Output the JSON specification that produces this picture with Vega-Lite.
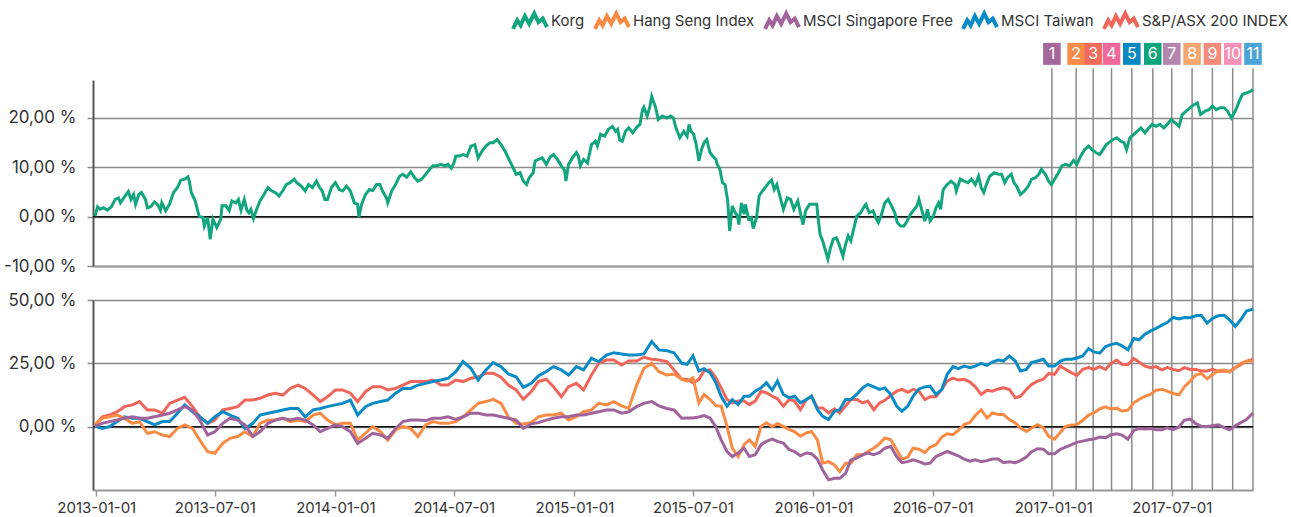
{
"$schema": "https://vega.github.io/schema/vega-lite/v6.json",
"background": "white",
"padding": {"left": 3, "top": 2, "right": 0, "bottom": 0},
"bounds": "flush",
"spacing": 34,
"config": {"font": "Inter", "view": {"stroke": null}},
"datasets": {
"events": [{"d":"2016-12-30","n":1},{"d":"2017-02-05","n":2},{"d":"2017-03-03","n":3},{"d":"2017-03-31","n":4},{"d":"2017-05-01","n":5},{"d":"2017-06-02","n":6},{"d":"2017-07-01","n":7},{"d":"2017-08-01","n":8},{"d":"2017-09-01","n":9},{"d":"2017-10-02","n":10},{"d":"2017-11-02","n":11}],
"korg": [
{"d":"2012-365","v":0.1},{"d":"2013-003","v":2.0},{"d":"2013-007","v":1.5},{"d":"2013-012","v":1.8},{"d":"2013-018","v":1.3},{"d":"2013-024","v":2.0},{"d":"2013-030","v":3.5},{"d":"2013-035","v":3.8},{"d":"2013-038","v":2.8},{"d":"2013-044","v":4.0},{"d":"2013-050","v":5.1},{"d":"2013-054","v":3.5},{"d":"2013-058","v":4.5},{"d":"2013-061","v":2.5},{"d":"2013-066","v":4.5},{"d":"2013-070","v":4.9},{"d":"2013-076","v":3.5},{"d":"2013-079","v":1.8},{"d":"2013-084","v":2.0},{"d":"2013-090","v":3.0},{"d":"2013-095","v":2.4},{"d":"2013-099","v":1.3},{"d":"2013-101","v":2.8},{"d":"2013-107","v":1.2},{"d":"2013-113","v":2.6},{"d":"2013-119","v":4.9},{"d":"2013-125","v":5.9},{"d":"2013-130","v":7.4},{"d":"2013-136","v":7.6},{"d":"2013-141","v":8.1},{"d":"2013-143","v":7.2},{"d":"2013-146","v":4.9},{"d":"2013-152","v":3.2},{"d":"2013-158","v":0.1},{"d":"2013-164","v":-0.2},{"d":"2013-166","v":-1.9},{"d":"2013-171","v":-0.2},{"d":"2013-175","v":-4.6},{"d":"2013-179","v":-0.5},{"d":"2013-185","v":-2.2},{"d":"2013-191","v":-0.5},{"d":"2013-193","v":2.2},{"d":"2013-199","v":2.2},{"d":"2013-204","v":1.2},{"d":"2013-208","v":3.2},{"d":"2013-214","v":2.8},{"d":"2013-218","v":3.5},{"d":"2013-222","v":1.3},{"d":"2013-227","v":3.5},{"d":"2013-231","v":1.3},{"d":"2013-234","v":0.8},{"d":"2013-237","v":1.5},{"d":"2013-241","v":-0.4},{"d":"2013-245","v":1.2},{"d":"2013-251","v":3.2},{"d":"2013-257","v":4.5},{"d":"2013-263","v":5.9},{"d":"2013-268","v":5.3},{"d":"2013-274","v":4.9},{"d":"2013-280","v":4.2},{"d":"2013-286","v":5.3},{"d":"2013-291","v":6.5},{"d":"2013-297","v":6.9},{"d":"2013-303","v":7.6},{"d":"2013-307","v":6.9},{"d":"2013-314","v":6.2},{"d":"2013-320","v":5.2},{"d":"2013-325","v":6.5},{"d":"2013-331","v":5.9},{"d":"2013-337","v":7.2},{"d":"2013-342","v":5.9},{"d":"2013-346","v":5.2},{"d":"2013-350","v":3.5},{"d":"2013-354","v":3.5},{"d":"2013-360","v":5.9},
{"d":"2014-001","v":6.9},{"d":"2014-007","v":5.5},{"d":"2014-012","v":5.2},{"d":"2014-018","v":6.2},{"d":"2014-024","v":5.2},{"d":"2014-030","v":2.8},{"d":"2014-035","v":2.5},{"d":"2014-037","v":-0.1},{"d":"2014-041","v":2.5},{"d":"2014-047","v":4.5},{"d":"2014-053","v":5.5},{"d":"2014-058","v":5.3},{"d":"2014-064","v":6.5},{"d":"2014-069","v":6.5},{"d":"2014-073","v":5.2},{"d":"2014-079","v":3.8},{"d":"2014-081","v":2.8},{"d":"2014-087","v":5.2},{"d":"2014-093","v":6.5},{"d":"2014-099","v":8.2},{"d":"2014-104","v":8.6},{"d":"2014-110","v":8.0},{"d":"2014-116","v":9.1},{"d":"2014-122","v":7.9},{"d":"2014-127","v":7.2},{"d":"2014-133","v":7.6},{"d":"2014-139","v":8.6},{"d":"2014-145","v":9.6},{"d":"2014-150","v":10.3},{"d":"2014-156","v":10.3},{"d":"2014-162","v":10.6},{"d":"2014-168","v":10.3},{"d":"2014-173","v":10.6},{"d":"2014-178","v":9.8},{"d":"2014-182","v":10.9},{"d":"2014-185","v":12.3},{"d":"2014-191","v":12.3},{"d":"2014-196","v":12.6},{"d":"2014-202","v":12.3},{"d":"2014-208","v":14.3},{"d":"2014-214","v":14.6},{"d":"2014-219","v":11.9},{"d":"2014-225","v":13.3},{"d":"2014-231","v":14.3},{"d":"2014-237","v":15.0},{"d":"2014-242","v":15.0},{"d":"2014-248","v":15.6},{"d":"2014-254","v":14.6},{"d":"2014-260","v":13.3},{"d":"2014-265","v":11.9},{"d":"2014-271","v":10.3},{"d":"2014-277","v":8.6},{"d":"2014-283","v":8.9},{"d":"2014-288","v":7.2},{"d":"2014-293","v":6.5},{"d":"2014-297","v":7.9},{"d":"2014-303","v":8.9},{"d":"2014-306","v":11.3},{"d":"2014-311","v":11.6},{"d":"2014-317","v":11.9},{"d":"2014-323","v":10.6},{"d":"2014-329","v":12.1},{"d":"2014-334","v":12.6},{"d":"2014-340","v":11.6},{"d":"2014-346","v":10.3},{"d":"2014-351","v":9.4},{"d":"2014-353","v":7.2},{"d":"2014-357","v":10.6},{"d":"2014-363","v":11.9},
{"d":"2015-004","v":13.0},{"d":"2015-007","v":12.3},{"d":"2015-010","v":10.3},{"d":"2015-015","v":11.6},{"d":"2015-021","v":10.9},{"d":"2015-027","v":14.6},{"d":"2015-033","v":15.3},{"d":"2015-036","v":14.3},{"d":"2015-041","v":16.7},{"d":"2015-047","v":16.3},{"d":"2015-053","v":17.7},{"d":"2015-059","v":18.3},{"d":"2015-064","v":17.3},{"d":"2015-067","v":17.7},{"d":"2015-070","v":15.6},{"d":"2015-074","v":15.3},{"d":"2015-079","v":17.3},{"d":"2015-084","v":18.0},{"d":"2015-090","v":17.0},{"d":"2015-096","v":18.1},{"d":"2015-101","v":18.7},{"d":"2015-105","v":21.7},{"d":"2015-107","v":22.2},{"d":"2015-112","v":20.4},{"d":"2015-116","v":22.2},{"d":"2015-119","v":24.4},{"d":"2015-125","v":22.1},{"d":"2015-129","v":19.7},{"d":"2015-135","v":20.4},{"d":"2015-142","v":20.0},{"d":"2015-148","v":20.4},{"d":"2015-152","v":20.0},{"d":"2015-156","v":18.0},{"d":"2015-162","v":16.0},{"d":"2015-168","v":17.3},{"d":"2015-173","v":16.3},{"d":"2015-176","v":18.7},{"d":"2015-179","v":17.3},{"d":"2015-183","v":16.7},{"d":"2015-187","v":14.6},{"d":"2015-191","v":11.3},{"d":"2015-195","v":13.6},{"d":"2015-199","v":15.0},{"d":"2015-203","v":15.6},{"d":"2015-208","v":13.0},{"d":"2015-212","v":12.3},{"d":"2015-217","v":11.6},{"d":"2015-219","v":10.6},{"d":"2015-223","v":9.6},{"d":"2015-227","v":6.9},{"d":"2015-231","v":6.5},{"d":"2015-235","v":3.2},{"d":"2015-238","v":-2.9},{"d":"2015-242","v":2.2},{"d":"2015-245","v":1.2},{"d":"2015-250","v":0.1},{"d":"2015-252","v":-1.6},{"d":"2015-256","v":2.8},{"d":"2015-260","v":0.5},{"d":"2015-262","v":2.5},{"d":"2015-267","v":-0.5},{"d":"2015-271","v":-0.2},{"d":"2015-274","v":-2.4},{"d":"2015-279","v":-0.2},{"d":"2015-283","v":4.2},{"d":"2015-288","v":5.2},{"d":"2015-294","v":6.2},{"d":"2015-298","v":6.9},{"d":"2015-302","v":7.4},{"d":"2015-306","v":5.5},{"d":"2015-310","v":6.5},{"d":"2015-314","v":4.5},{"d":"2015-320","v":1.5},{"d":"2015-326","v":3.8},{"d":"2015-331","v":3.5},{"d":"2015-336","v":1.5},{"d":"2015-342","v":3.2},{"d":"2015-346","v":0.8},{"d":"2015-350","v":-1.6},{"d":"2015-354","v":1.2},{"d":"2015-360","v":2.5},
{"d":"2016-001","v":2.5},{"d":"2016-006","v":2.5},{"d":"2016-008","v":-0.2},{"d":"2016-011","v":-3.6},{"d":"2016-015","v":-4.9},{"d":"2016-018","v":-6.3},{"d":"2016-023","v":-8.6},{"d":"2016-027","v":-6.3},{"d":"2016-031","v":-4.6},{"d":"2016-036","v":-4.3},{"d":"2016-040","v":-5.6},{"d":"2016-046","v":-8.0},{"d":"2016-050","v":-5.6},{"d":"2016-054","v":-3.9},{"d":"2016-058","v":-4.9},{"d":"2016-064","v":-1.6},{"d":"2016-067","v":0.1},{"d":"2016-073","v":0.8},{"d":"2016-079","v":2.2},{"d":"2016-081","v":2.5},{"d":"2016-086","v":0.8},{"d":"2016-092","v":1.2},{"d":"2016-096","v":-0.2},{"d":"2016-100","v":-1.2},{"d":"2016-104","v":0.1},{"d":"2016-110","v":2.8},{"d":"2016-115","v":3.5},{"d":"2016-119","v":2.5},{"d":"2016-125","v":0.8},{"d":"2016-129","v":-1.2},{"d":"2016-134","v":-1.9},{"d":"2016-139","v":-1.9},{"d":"2016-144","v":-0.9},{"d":"2016-149","v":0.5},{"d":"2016-155","v":1.5},{"d":"2016-159","v":2.2},{"d":"2016-162","v":3.5},{"d":"2016-166","v":1.5},{"d":"2016-171","v":-0.9},{"d":"2016-175","v":1.5},{"d":"2016-179","v":-0.9},{"d":"2016-184","v":0.1},{"d":"2016-188","v":1.8},{"d":"2016-192","v":2.8},{"d":"2016-195","v":1.5},{"d":"2016-199","v":5.5},{"d":"2016-205","v":6.5},{"d":"2016-211","v":7.2},{"d":"2016-217","v":6.5},{"d":"2016-219","v":5.2},{"d":"2016-225","v":7.6},{"d":"2016-231","v":7.2},{"d":"2016-237","v":6.9},{"d":"2016-242","v":7.6},{"d":"2016-248","v":6.5},{"d":"2016-253","v":8.2},{"d":"2016-257","v":5.9},{"d":"2016-261","v":4.9},{"d":"2016-265","v":6.5},{"d":"2016-270","v":8.2},{"d":"2016-277","v":8.9},{"d":"2016-283","v":8.6},{"d":"2016-288","v":8.6},{"d":"2016-293","v":6.9},{"d":"2016-297","v":7.9},{"d":"2016-303","v":8.6},{"d":"2016-307","v":6.9},{"d":"2016-311","v":6.2},{"d":"2016-317","v":4.5},{"d":"2016-323","v":5.2},{"d":"2016-329","v":6.2},{"d":"2016-334","v":7.6},{"d":"2016-340","v":7.9},{"d":"2016-345","v":8.6},{"d":"2016-349","v":9.6},{"d":"2016-355","v":8.6},{"d":"2016-360","v":7.2},{"d":"2016-364","v":6.5},
{"d":"2017-003","v":7.6},{"d":"2017-009","v":8.9},{"d":"2017-014","v":10.3},{"d":"2017-020","v":10.6},{"d":"2017-026","v":10.3},{"d":"2017-032","v":11.4},{"d":"2017-037","v":10.6},{"d":"2017-043","v":12.3},{"d":"2017-049","v":13.6},{"d":"2017-055","v":14.3},{"d":"2017-060","v":13.6},{"d":"2017-066","v":13.0},{"d":"2017-072","v":12.6},{"d":"2017-077","v":13.6},{"d":"2017-082","v":14.6},{"d":"2017-086","v":15.0},{"d":"2017-092","v":15.6},{"d":"2017-098","v":16.0},{"d":"2017-104","v":15.3},{"d":"2017-109","v":15.0},{"d":"2017-113","v":13.6},{"d":"2017-118","v":16.0},{"d":"2017-124","v":16.7},{"d":"2017-129","v":17.3},{"d":"2017-135","v":18.0},{"d":"2017-141","v":17.0},{"d":"2017-147","v":18.0},{"d":"2017-152","v":18.7},{"d":"2017-158","v":18.3},{"d":"2017-164","v":18.7},{"d":"2017-170","v":18.0},{"d":"2017-175","v":18.7},{"d":"2017-181","v":19.7},{"d":"2017-187","v":19.0},{"d":"2017-193","v":18.3},{"d":"2017-198","v":20.7},{"d":"2017-204","v":21.4},{"d":"2017-210","v":22.1},{"d":"2017-216","v":22.7},{"d":"2017-221","v":23.1},{"d":"2017-226","v":20.7},{"d":"2017-233","v":21.4},{"d":"2017-239","v":21.7},{"d":"2017-244","v":22.4},{"d":"2017-250","v":21.7},{"d":"2017-256","v":22.1},{"d":"2017-262","v":22.1},{"d":"2017-267","v":21.4},{"d":"2017-273","v":20.0},{"d":"2017-279","v":21.4},{"d":"2017-285","v":23.4},{"d":"2017-290","v":24.8},{"d":"2017-296","v":25.1},{"d":"2017-302","v":25.4},{"d":"2017-306","v":25.8}
],
"idx": [
{"d":"2012-365","a":0.5,"t":0.2,"h":0.8,"s":0.2},{"d":"2013-010","a":3.9,"t":-0.7,"h":3.3,"s":1.3},{"d":"2013-021","a":4.6,"t":0.0,"h":3.9,"s":2.0},{"d":"2013-033","a":5.9,"t":2.0,"h":4.6,"s":2.6},{"d":"2013-044","a":7.9,"t":3.9,"h":3.3,"s":3.3},{"d":"2013-056","a":8.6,"t":3.3,"h":1.3,"s":3.9},{"d":"2013-067","a":9.9,"t":3.3,"h":2.0,"s":3.3},{"d":"2013-079","a":6.6,"t":2.0,"h":-2.6,"s":3.3},{"d":"2013-090","a":6.6,"t":0.7,"h":-2.0,"s":3.9},{"d":"2013-102","a":5.3,"t":2.0,"h":-3.3,"s":4.6},{"d":"2013-113","a":9.2,"t":2.0,"h":-3.9,"s":5.3},{"d":"2013-125","a":10.5,"t":5.3,"h":-0.7,"s":6.6},{"d":"2013-136","a":11.6,"t":8.6,"h":0.7,"s":7.9},{"d":"2013-148","a":7.9,"t":5.9,"h":-0.7,"s":6.6},{"d":"2013-159","a":3.9,"t":3.9,"h":-5.3,"s":2.6},{"d":"2013-171","a":1.3,"t":1.3,"h":-9.9,"s":-3.3},{"d":"2013-182","a":2.6,"t":3.9,"h":-10.5,"s":-2.0},{"d":"2013-194","a":6.6,"t":5.9,"h":-6.6,"s":1.3},{"d":"2013-205","a":7.2,"t":4.6,"h":-4.6,"s":3.3},{"d":"2013-217","a":7.9,"t":3.3,"h":-3.9,"s":2.6},{"d":"2013-228","a":10.5,"t":-0.7,"h":-2.0,"s":0.7},{"d":"2013-240","a":10.5,"t":1.3,"h":-3.9,"s":-3.9},{"d":"2013-251","a":11.2,"t":4.6,"h":1.3,"s":-2.0},{"d":"2013-263","a":12.5,"t":5.3,"h":2.6,"s":1.3},{"d":"2013-274","a":13.2,"t":5.9,"h":2.6,"s":2.6},{"d":"2013-286","a":12.5,"t":6.6,"h":3.3,"s":3.3},{"d":"2013-297","a":15.1,"t":7.2,"h":2.0,"s":2.6},{"d":"2013-309","a":16.4,"t":7.2,"h":2.6,"s":3.3},{"d":"2013-320","a":15.1,"t":3.9,"h":2.0,"s":2.6},{"d":"2013-332","a":12.5,"t":6.6,"h":4.6,"s":0.7},{"d":"2013-343","a":9.9,"t":7.2,"h":5.3,"s":-2.0},{"d":"2013-354","a":11.8,"t":7.9,"h":2.6,"s":-0.7},
{"d":"2014-001","a":14.5,"t":8.6,"h":0.7,"s":0.7},{"d":"2014-012","a":14.5,"t":9.2,"h":1.3,"s":0.0},{"d":"2014-024","a":13.2,"t":10.5,"h":1.3,"s":-2.0},{"d":"2014-035","a":9.9,"t":4.6,"h":-5.3,"s":-6.6},{"d":"2014-047","a":13.8,"t":7.9,"h":-2.6,"s":-4.6},{"d":"2014-058","a":15.8,"t":9.2,"h":0.0,"s":-2.6},{"d":"2014-070","a":15.8,"t":9.9,"h":-2.0,"s":-3.3},{"d":"2014-081","a":14.5,"t":10.5,"h":-5.3,"s":-4.6},{"d":"2014-093","a":15.1,"t":13.2,"h":-1.3,"s":-0.7},{"d":"2014-104","a":16.4,"t":15.1,"h":0.0,"s":2.0},{"d":"2014-116","a":17.8,"t":15.1,"h":-0.7,"s":2.6},{"d":"2014-127","a":17.8,"t":16.4,"h":-3.9,"s":2.6},{"d":"2014-139","a":17.8,"t":17.1,"h":0.7,"s":2.4},{"d":"2014-150","a":18.4,"t":17.8,"h":2.0,"s":3.3},{"d":"2014-162","a":16.4,"t":18.4,"h":1.3,"s":3.3},{"d":"2014-173","a":16.4,"t":19.1,"h":1.3,"s":3.9},{"d":"2014-185","a":18.4,"t":21.7,"h":2.0,"s":2.9},{"d":"2014-196","a":17.8,"t":25.7,"h":3.9,"s":3.9},{"d":"2014-208","a":19.1,"t":23.0,"h":6.6,"s":5.3},{"d":"2014-219","a":19.7,"t":18.4,"h":9.2,"s":5.3},{"d":"2014-231","a":21.1,"t":22.4,"h":9.9,"s":4.6},{"d":"2014-242","a":21.1,"t":25.3,"h":10.8,"s":4.6},{"d":"2014-254","a":19.5,"t":23.7,"h":9.2,"s":3.9},{"d":"2014-265","a":16.4,"t":20.8,"h":3.9,"s":3.3},{"d":"2014-277","a":14.5,"t":19.7,"h":1.3,"s":2.6},{"d":"2014-288","a":10.8,"t":15.5,"h":1.1,"s":-0.7},{"d":"2014-300","a":13.8,"t":17.1,"h":1.6,"s":1.1},{"d":"2014-311","a":17.8,"t":20.0,"h":3.9,"s":1.6},{"d":"2014-323","a":18.7,"t":21.8,"h":4.6,"s":2.6},{"d":"2014-334","a":15.8,"t":23.7,"h":4.6,"s":3.3},{"d":"2014-346","a":11.8,"t":22.4,"h":5.3,"s":3.9},{"d":"2014-357","a":15.8,"t":20.4,"h":2.6,"s":3.9},
{"d":"2015-004","a":17.1,"t":23.7,"h":3.9,"s":4.6},{"d":"2015-015","a":14.5,"t":22.4,"h":5.9,"s":4.6},{"d":"2015-027","a":20.4,"t":27.0,"h":6.6,"s":5.3},{"d":"2015-038","a":25.0,"t":25.7,"h":9.2,"s":5.9},{"d":"2015-050","a":26.3,"t":28.3,"h":8.6,"s":6.6},{"d":"2015-061","a":26.3,"t":29.2,"h":9.9,"s":6.6},{"d":"2015-073","a":24.3,"t":28.7,"h":8.2,"s":5.3},{"d":"2015-084","a":25.9,"t":28.3,"h":7.2,"s":5.9},{"d":"2015-096","a":25.9,"t":28.3,"h":16.4,"s":7.9},{"d":"2015-107","a":27.4,"t":28.7,"h":23.0,"s":9.2},{"d":"2015-119","a":26.6,"t":33.6,"h":25.0,"s":9.9},{"d":"2015-130","a":26.3,"t":30.3,"h":21.7,"s":8.2},{"d":"2015-142","a":25.7,"t":30.0,"h":20.4,"s":7.2},{"d":"2015-153","a":22.4,"t":29.2,"h":20.8,"s":6.6},{"d":"2015-165","a":18.7,"t":25.0,"h":18.7,"s":3.3},
{"d":"2015-173","a":18.7,"t":24.6,"h":18.0,"s":3.4},{"d":"2015-182","a":17.3,"t":27.9,"h":19.3,"s":3.4},{"d":"2015-191","a":18.7,"t":22.0,"h":9.4,"s":3.8},{"d":"2015-199","a":22.0,"t":22.9,"h":12.7,"s":4.4},{"d":"2015-208","a":22.4,"t":21.3,"h":10.7,"s":3.4},{"d":"2015-217","a":19.3,"t":17.3,"h":8.3,"s":-0.1},{"d":"2015-225","a":15.3,"t":12.0,"h":8.1,"s":-5.2},{"d":"2015-234","a":10.7,"t":8.1,"h":0.1,"s":-9.8},{"d":"2015-242","a":9.4,"t":10.7,"h":-8.5,"s":-11.8},{"d":"2015-251","a":10.1,"t":8.7,"h":-11.8,"s":-10.4},{"d":"2015-260","a":10.1,"t":12.0,"h":-7.1,"s":-8.5},{"d":"2015-268","a":8.7,"t":12.0,"h":-5.2,"s":-11.8},{"d":"2015-277","a":10.1,"t":14.0,"h":-7.8,"s":-11.1},{"d":"2015-286","a":14.0,"t":15.3,"h":0.1,"s":-7.1},{"d":"2015-294","a":13.4,"t":17.3,"h":1.5,"s":-5.8},{"d":"2015-303","a":12.0,"t":14.4,"h":0.1,"s":-4.9},{"d":"2015-311","a":11.0,"t":18.0,"h":1.2,"s":-5.8},{"d":"2015-320","a":8.1,"t":12.7,"h":0.1,"s":-6.5},{"d":"2015-329","a":10.7,"t":11.4,"h":-1.2,"s":-9.1},{"d":"2015-337","a":10.1,"t":12.0,"h":-1.9,"s":-9.8},{"d":"2015-346","a":6.7,"t":9.4,"h":-3.8,"s":-11.5},{"d":"2015-355","a":10.7,"t":10.7,"h":-2.5,"s":-10.4},{"d":"2015-363","a":12.0,"t":12.0,"h":-1.9,"s":-10.7},
{"d":"2016-007","a":7.4,"t":6.7,"h":-5.2,"s":-12.8},{"d":"2016-015","a":7.4,"t":4.1,"h":-14.4,"s":-17.1},{"d":"2016-024","a":5.4,"t":2.8,"h":-13.8,"s":-21.0},{"d":"2016-033","a":7.0,"t":6.1,"h":-15.1,"s":-20.4},{"d":"2016-041","a":5.4,"t":6.7,"h":-17.7,"s":-20.4},{"d":"2016-050","a":8.1,"t":10.7,"h":-14.4,"s":-18.4},{"d":"2016-058","a":10.7,"t":10.7,"h":-14.4,"s":-13.1},{"d":"2016-067","a":10.7,"t":12.7,"h":-11.1,"s":-12.4},{"d":"2016-076","a":9.4,"t":15.3,"h":-11.1,"s":-11.1},{"d":"2016-084","a":10.1,"t":16.7,"h":-9.8,"s":-10.4},{"d":"2016-093","a":6.7,"t":15.7,"h":-8.5,"s":-11.1},{"d":"2016-102","a":9.4,"t":14.7,"h":-6.7,"s":-10.2},{"d":"2016-110","a":10.4,"t":15.3,"h":-4.5,"s":-8.5},{"d":"2016-119","a":12.3,"t":12.7,"h":-5.2,"s":-7.8},{"d":"2016-128","a":14.0,"t":8.1,"h":-9.1,"s":-11.8},{"d":"2016-136","a":14.7,"t":6.1,"h":-12.8,"s":-14.2},{"d":"2016-145","a":13.6,"t":8.1,"h":-12.0,"s":-13.8},{"d":"2016-153","a":14.7,"t":12.0,"h":-8.5,"s":-13.1},{"d":"2016-162","a":14.0,"t":14.9,"h":-8.9,"s":-13.8},{"d":"2016-171","a":10.7,"t":15.7,"h":-10.2,"s":-14.7},{"d":"2016-179","a":11.8,"t":16.0,"h":-8.1,"s":-14.4},{"d":"2016-188","a":11.8,"t":12.7,"h":-7.1,"s":-11.8},{"d":"2016-197","a":14.7,"t":14.7,"h":-4.1,"s":-10.7},{"d":"2016-205","a":18.0,"t":20.6,"h":-2.8,"s":-9.8},{"d":"2016-214","a":19.2,"t":23.7,"h":-3.2,"s":-10.7},{"d":"2016-222","a":18.4,"t":22.9,"h":-1.5,"s":-11.5},{"d":"2016-231","a":18.7,"t":23.9,"h":0.8,"s":-12.8},{"d":"2016-240","a":17.6,"t":23.3,"h":1.7,"s":-13.6},{"d":"2016-248","a":15.7,"t":23.9,"h":4.4,"s":-13.1},{"d":"2016-257","a":12.7,"t":25.0,"h":6.7,"s":-13.8},{"d":"2016-266","a":14.4,"t":24.2,"h":3.4,"s":-13.4},{"d":"2016-274","a":14.0,"t":25.5,"h":5.4,"s":-12.8},{"d":"2016-283","a":14.9,"t":26.3,"h":4.8,"s":-12.8},{"d":"2016-291","a":15.3,"t":25.9,"h":4.8,"s":-14.2},{"d":"2016-300","a":14.7,"t":27.9,"h":2.8,"s":-13.9},{"d":"2016-309","a":11.4,"t":25.9,"h":1.5,"s":-14.2},{"d":"2016-317","a":12.0,"t":22.0,"h":-0.5,"s":-13.4},{"d":"2016-326","a":14.7,"t":22.6,"h":-1.9,"s":-12.0},{"d":"2016-334","a":16.7,"t":25.3,"h":-0.5,"s":-9.9},{"d":"2016-343","a":18.0,"t":25.9,"h":0.8,"s":-8.7},{"d":"2016-352","a":18.7,"t":26.6,"h":-0.5,"s":-8.9},{"d":"2016-360","a":21.0,"t":23.9,"h":-3.8,"s":-10.7},
{"d":"2017-003","a":20.6,"t":23.9,"h":-4.9,"s":-10.7},{"d":"2017-012","a":23.9,"t":25.9,"h":-2.2,"s":-8.9},{"d":"2017-020","a":22.6,"t":26.6,"h":0.1,"s":-8.1},{"d":"2017-029","a":21.3,"t":26.6,"h":0.7,"s":-7.1},{"d":"2017-037","a":20.2,"t":27.1,"h":0.8,"s":-6.2},{"d":"2017-046","a":22.6,"t":27.9,"h":2.5,"s":-5.7},{"d":"2017-055","a":23.3,"t":30.8,"h":4.6,"s":-5.2},{"d":"2017-063","a":22.6,"t":29.5,"h":5.4,"s":-4.9},{"d":"2017-072","a":23.7,"t":29.0,"h":7.0,"s":-4.1},{"d":"2017-081","a":22.6,"t":31.6,"h":7.8,"s":-4.4},{"d":"2017-089","a":25.0,"t":32.4,"h":7.0,"s":-3.2},{"d":"2017-098","a":26.3,"t":32.9,"h":7.3,"s":-2.8},{"d":"2017-106","a":24.6,"t":31.9,"h":6.2,"s":-3.3},{"d":"2017-115","a":24.5,"t":30.3,"h":6.5,"s":-4.9},{"d":"2017-124","a":26.9,"t":34.8,"h":9.4,"s":-1.5},{"d":"2017-132","a":25.5,"t":34.3,"h":10.7,"s":-0.7},{"d":"2017-141","a":23.9,"t":36.5,"h":12.0,"s":-0.9},{"d":"2017-150","a":23.3,"t":37.8,"h":12.8,"s":-0.7},{"d":"2017-158","a":23.7,"t":38.8,"h":14.4,"s":-1.2},{"d":"2017-167","a":22.4,"t":40.1,"h":14.7,"s":-1.2},{"d":"2017-175","a":23.3,"t":41.1,"h":14.0,"s":-0.5},{"d":"2017-184","a":22.6,"t":43.1,"h":13.1,"s":-1.2},{"d":"2017-193","a":22.1,"t":42.5,"h":12.6,"s":-0.1},{"d":"2017-201","a":23.3,"t":43.1,"h":15.7,"s":2.5},{"d":"2017-210","a":22.6,"t":43.0,"h":17.9,"s":3.0},{"d":"2017-219","a":22.6,"t":43.8,"h":20.5,"s":1.2},{"d":"2017-227","a":22.0,"t":44.0,"h":21.0,"s":0.1},{"d":"2017-236","a":22.0,"t":40.9,"h":18.9,"s":0.1},{"d":"2017-244","a":22.6,"t":42.7,"h":20.6,"s":0.4},{"d":"2017-253","a":21.8,"t":43.8,"h":22.1,"s":0.7},{"d":"2017-262","a":22.0,"t":44.0,"h":22.4,"s":-0.4},{"d":"2017-270","a":21.8,"t":42.2,"h":21.6,"s":-1.2},{"d":"2017-279","a":23.3,"t":39.6,"h":23.3,"s":0.4},{"d":"2017-288","a":24.6,"t":42.5,"h":25.0,"s":1.7},{"d":"2017-296","a":25.8,"t":45.6,"h":25.8,"s":2.8},{"d":"2017-306","a":26.6,"t":46.4,"h":25.9,"s":5.4}
]
},
"vconcat": [
{
"width": 1160, "height": 186,
"layer": [
{"data": {"name": "events"},
 "mark": {"type": "rule", "color": "#8c8c8c", "strokeWidth": 1.5, "clip": false},
 "encoding": {
  "x": {"field": "d", "type": "temporal", "scale": {"type": "utc", "domain": [{"year": 2012, "month": 12, "date": 27, "utc": true}, {"year": 2017, "month": 11, "date": 2, "utc": true}], "nice": false},
        "axis": {"title": null, "labels": false, "ticks": false, "grid": false, "domainColor": "#999", "domainWidth": 2}},
  "y": {"datum": -16.9, "type": "quantitative", "scale": {"domain": [-10, 27.7], "nice": false, "zero": false},
        "axis": {"title": null, "values": [-10, 0, 10, 20], "labelExpr": "replace(replace(format(datum.value, '.2f'), '.', ','), '\u2212', '-') + ' %'", "grid": true, "gridColor": "#8c8c8c", "gridWidth": 1.5, "domainColor": "#555", "domainWidth": 2, "tickColor": "#8c8c8c", "tickSize": 6, "tickWidth": 1.5, "labelFontSize": 17, "labelColor": "#333", "labelPadding": 11, "labelFont": "Inter"}},
  "y2": {"datum": 30.1}
 }},
{"data": {"values": [{}]},
 "mark": {"type": "rule", "color": "#111", "strokeWidth": 1.5},
 "encoding": {"y": {"datum": 0, "type": "quantitative"}}},
{"data": {"name": "korg", "format": {"parse": {"d": "utc:'%Y-%j'"}}},
 "mark": {"type": "line", "strokeWidth": 3},
 "encoding": {
  "x": {"field": "d", "type": "temporal"},
  "y": {"field": "v", "type": "quantitative"},
  "color": {"datum": "k", "type": "nominal",
    "scale": {"domain": ["k", "h", "s", "t", "a"], "range": ["#13a57e", "#f98b45", "#a0639c", "#0b8bc5", "#f0665a"]},
    "legend": {"title": null, "orient": "none", "legendX": 418, "legendY": -78, "direction": "horizontal",
      "symbolType": "M-1,0.45L-0.75,-0.05L-0.55,0.25L-0.3,-0.3L-0.05,0.15L0.25,-0.45L0.5,0.05L0.75,-0.15L1,0.35",
      "symbolSize": 1156, "symbolStrokeWidth": 4, "symbolFillColor": "transparent", "labelFontSize": 15, "labelColor": "#333", "labelFont": "Inter", "labelOffset": 2, "columnPadding": 2,
      "labelExpr": "datum.label == 'k' ? 'Korg' : datum.label == 'h' ? 'Hang Seng Index' : datum.label == 's' ? 'MSCI Singapore Free' : datum.label == 't' ? 'MSCI Taiwan' : 'S&P/ASX 200 INDEX'"}}
 }},
{"data": {"name": "events"},
 "mark": {"type": "point", "shape": "M-0.8,-1L0.8,-1L0.8,1L-0.8,1Z", "size": 484, "filled": true, "opacity": 1, "strokeWidth": 0, "clip": false},
 "encoding": {
  "x": {"field": "d", "type": "temporal"},
  "y": {"datum": 33.0, "type": "quantitative"},
  "fill": {"field": "n", "type": "ordinal", "scale": {"domain": [1,2,3,4,5,6,7,8,9,10,11], "range": ["#a4679b", "#f88b48", "#f26b5d", "#f0699a", "#0a88c2", "#0fa57c", "#b486ad", "#f9a66f", "#f58b7a", "#f590b7", "#4aa4d5"]}, "legend": null}
 }},
{"data": {"name": "events"},
 "mark": {"type": "text", "color": "white", "fontSize": 16, "font": "Inter", "baseline": "middle", "align": "center", "clip": false},
 "encoding": {
  "x": {"field": "d", "type": "temporal"},
  "y": {"datum": 33.0, "type": "quantitative"},
  "text": {"field": "n", "type": "nominal"}
 }}
]
},
{
"width": 1160, "height": 190,
"layer": [
{"data": {"name": "events"},
 "mark": {"type": "rule", "color": "#8c8c8c", "strokeWidth": 1.5},
 "encoding": {
  "x": {"field": "d", "type": "temporal", "scale": {"type": "utc", "domain": [{"year": 2012, "month": 12, "date": 27, "utc": true}, {"year": 2017, "month": 11, "date": 2, "utc": true}], "nice": false},
        "axis": {"title": null, "format": "%Y-%m-%d", "values": [{"year": 2013, "month": 1, "date": 1, "utc": true}, {"year": 2013, "month": 7, "date": 1, "utc": true}, {"year": 2014, "month": 1, "date": 1, "utc": true}, {"year": 2014, "month": 7, "date": 1, "utc": true}, {"year": 2015, "month": 1, "date": 1, "utc": true}, {"year": 2015, "month": 7, "date": 1, "utc": true}, {"year": 2016, "month": 1, "date": 1, "utc": true}, {"year": 2016, "month": 7, "date": 1, "utc": true}, {"year": 2017, "month": 1, "date": 1, "utc": true}, {"year": 2017, "month": 7, "date": 1, "utc": true}],
          "grid": false, "domainColor": "#999", "domainWidth": 2, "tickColor": "#999", "tickSize": 6, "tickWidth": 1.5, "labelFontSize": 15, "labelColor": "#333", "labelFont": "Inter", "labelPadding": 4, "labelOverlap": false, "labelFlush": false}},
  "y": {"datum": -25, "type": "quantitative", "scale": {"domain": [-25, 50], "nice": false, "zero": false},
        "axis": {"title": null, "values": [0, 25, 50], "labelExpr": "replace(replace(format(datum.value, '.2f'), '.', ','), '\u2212', '-') + ' %'", "grid": true, "gridColor": "#8c8c8c", "gridWidth": 1.5, "domainColor": "#555", "domainWidth": 2, "tickColor": "#8c8c8c", "tickSize": 6, "tickWidth": 1.5, "labelFontSize": 17, "labelColor": "#333", "labelPadding": 11, "labelFont": "Inter"}},
  "y2": {"datum": 50}
 }},
{"data": {"values": [{}]},
 "mark": {"type": "rule", "color": "#111", "strokeWidth": 1.5},
 "encoding": {"y": {"datum": 0, "type": "quantitative"}}},
{"data": {"name": "idx", "format": {"parse": {"d": "utc:'%Y-%j'"}}},
 "transform": [{"fold": ["a", "t", "h", "s"], "as": ["key", "v"]}],
 "mark": {"type": "line", "strokeWidth": 3},
 "encoding": {
  "x": {"field": "d", "type": "temporal"},
  "y": {"field": "v", "type": "quantitative"},
  "color": {"field": "key", "type": "nominal",
    "scale": {"domain": ["k", "h", "s", "t", "a"], "range": ["#13a57e", "#f98b45", "#a0639c", "#0b8bc5", "#f0665a"]},
    "legend": {"title": null, "orient": "none", "legendX": 418, "legendY": -78, "direction": "horizontal",
      "symbolType": "M-1,0.45L-0.75,-0.05L-0.55,0.25L-0.3,-0.3L-0.05,0.15L0.25,-0.45L0.5,0.05L0.75,-0.15L1,0.35",
      "symbolSize": 1156, "symbolStrokeWidth": 4, "symbolFillColor": "transparent", "labelFontSize": 15, "labelColor": "#333", "labelFont": "Inter", "labelOffset": 2, "columnPadding": 2,
      "labelExpr": "datum.label == 'k' ? 'Korg' : datum.label == 'h' ? 'Hang Seng Index' : datum.label == 's' ? 'MSCI Singapore Free' : datum.label == 't' ? 'MSCI Taiwan' : 'S&P/ASX 200 INDEX'"}}
 }}
]
}
]
}
